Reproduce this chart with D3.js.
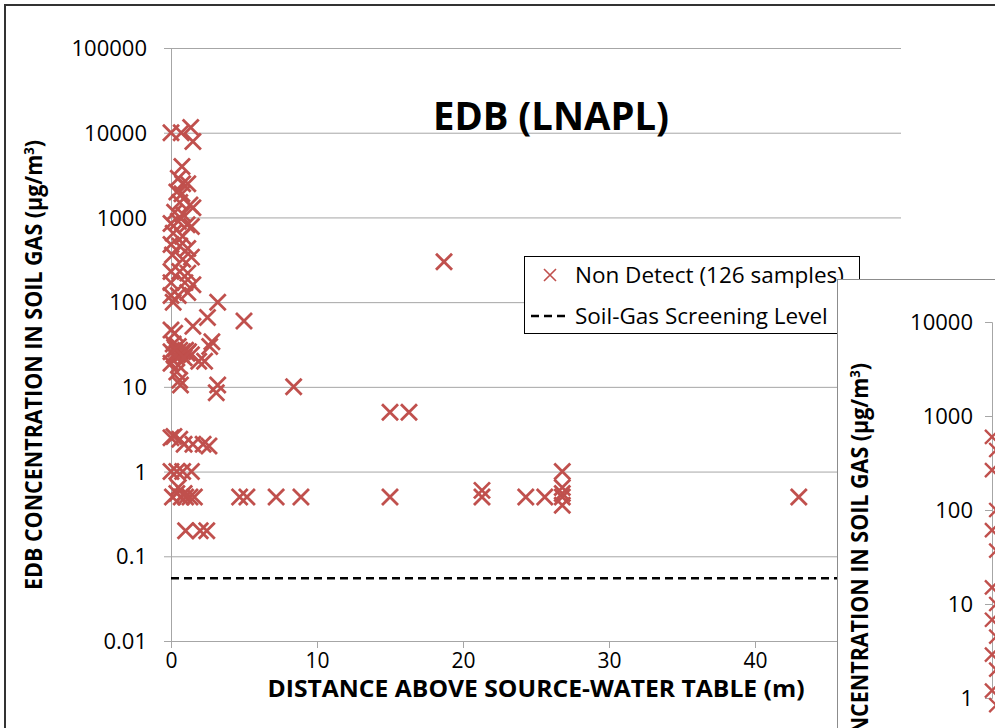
<!DOCTYPE html>
<html>
<head>
<meta charset="utf-8">
<script src="https://cdn.jsdelivr.net/npm/d3@7"></script>
<style>
  body { margin: 0; background: #fff; }
  svg { display: block; }
  text { font-family: "Open Sans", "Liberation Sans", sans-serif; fill: #000; }
</style>
</head>
<body>
<svg id="chart" width="995" height="728"></svg>
<script>
// EDB non-detect samples: distance above water table (m) vs concentration (ug/m3)
const distance = [
  0, 0.7, 1.35, 1.5, 0.75, 0.5, 0.8, 1.15, 0.4, 0.75, 0.6, 1.3, 1.5, 0.25, 0.8,
  0, 0.5, 1.1, 1.4, 0.15, 0.8, 0, 0.6, 1.15, 0.1, 0.8, 1.4, 0, 0.6, 1.15,
  0, 0.95, 1.5, 0, 0.5, 1.15, 0.15, 3.2, 2.5, 5.0, 0, 0.25, 1.5, 2.8, 2.65,
  0.15, 0.5, 0, 0.4, 0.6, 0.8, 1.1, 1.4, 0.2, 1.0, 1.9, 2.3, 0, 0.5, 0.4,
  0.6, 0.65, 3.2, 3.1, 8.4, 15.0, 16.3, 18.7, 0, 0.2, 0.6, 0.9, 1.5, 2.2, 2.6,
  0, 0.4, 0.8, 1.4, 0.5, 0.1, 0.4, 0.7, 1.0, 1.3, 1.6, 0.9, 4.7, 5.2, 7.2,
  8.9, 15.0, 21.3, 21.3, 24.3, 25.6, 26.8, 26.8, 26.8, 26.8, 26.8, 43.0, 1.0, 2.0, 2.45,
  0.3, 0.7, 1.2, 0.3, 0.9
];
const concentration = [
  10000, 10000, 11500, 7900, 4000, 2900, 2500, 2500, 2000, 1900, 1500, 1400, 1300, 1150, 1100,
  850, 900, 820, 780, 650, 600, 480, 460, 430, 360, 320, 340, 230, 230, 220,
  170, 170, 160, 120, 120, 130, 100, 100, 66, 60, 47, 43, 52, 34, 30,
  32, 30, 26, 25, 27, 26, 25, 24, 24, 27, 20, 20, 19, 18, 15,
  12, 10.5, 10.5, 8.5, 10, 5, 5, 300, 2.5, 2.6, 2.4, 2.1, 2.1, 2.1, 2.0,
  1.0, 1.0, 1.0, 1.0, 0.65, 0.5, 0.55, 0.5, 0.5, 0.5, 0.5, 0.55, 0.5, 0.5, 0.5,
  0.5, 0.5, 0.5, 0.6, 0.5, 0.5, 0.5, 1.0, 0.65, 0.4, 0.55, 0.5, 0.2, 0.2, 0.2,
  23, 24, 26, 28, 22
];
const screeningLevel = 0.055;
const yTicks = [0.01, 0.1, 1, 10, 100, 1000, 10000, 100000];
const xTicks = [0, 10, 20, 30, 40, 50];
const legendLabels = ["Non Detect (126 samples)", "Soil-Gas Screening Level"];

// the neighbouring chart that overlaps on the right
const insetTicks = [1, 10, 100, 1000, 10000];
const insetDistance = [0, 0.3, 0, 0.3, 0, 0.3, 0, 0.3, 0, 0.3, 0, 0.3, 0, 0.3];
const insetConcentration = [600, 435, 266, 100, 61, 37, 15, 10, 6.8, 4.5, 2.9, 2, 1.2, 0.84];

const red = "#c0504d";
const grid = "#a6a6a6";

const svg = d3.select("#chart");

// outer frame of the main chart
svg.append("rect")
  .attr("x", 5).attr("y", 5)
  .attr("width", 1100).attr("height", 800)
  .attr("fill", "#fff")
  .attr("stroke", "#333")
  .attr("stroke-width", 2);

const plot = { left: 171, right: 901, top: 48, bottom: 641 };

const x = d3.scaleLinear().domain([0, 50]).range([plot.left, plot.right]);
const y = d3.scaleLog().domain([0.01, 100000]).range([plot.bottom, plot.top]);

// horizontal gridlines + y ticks
const yAxis = svg.append("g")
  .attr("transform", `translate(${plot.left},0)`)
  .call(d3.axisLeft(y).tickValues(yTicks).tickSize(7).tickPadding(17)
    .tickFormat(d => d >= 1 ? d3.format("d")(d) : String(d)));
yAxis.select(".domain").attr("stroke", grid);
yAxis.selectAll(".tick line").attr("stroke", grid);
yAxis.selectAll(".tick").append("line")
  .attr("x2", plot.right - plot.left)
  .attr("stroke", grid);
yAxis.selectAll("text").attr("font-size", 22).attr("font-family", "Open Sans").attr("dy", "0.35em");

// x axis
const xAxis = svg.append("g")
  .attr("transform", `translate(0,${plot.bottom})`)
  .call(d3.axisBottom(x).tickValues(xTicks).tickSize(7).tickPadding(5));
xAxis.select(".domain").attr("stroke", grid);
xAxis.selectAll(".tick line").attr("stroke", grid);
xAxis.selectAll("text").attr("font-size", 21).attr("font-family", "Open Sans");

// screening level
svg.append("line")
  .attr("x1", x(0)).attr("x2", x(50))
  .attr("y1", y(screeningLevel)).attr("y2", y(screeningLevel))
  .attr("stroke", "#000")
  .attr("stroke-width", 2.5)
  .attr("stroke-dasharray", "8,5");

// samples
const cross = "M-8,-8L8,8M-8,8L8,-8";
svg.append("g").selectAll("path")
  .data(distance.map((d, i) => [d, concentration[i]]))
  .join("path")
  .attr("transform", d => `translate(${x(d[0])},${y(d[1])})`)
  .attr("d", cross)
  .attr("fill", "none")
  .attr("stroke", red)
  .attr("stroke-width", 2.8);

// titles
svg.append("text")
  .attr("x", 551).attr("y", 130)
  .attr("text-anchor", "middle")
  .attr("font-size", 39).attr("font-weight", "bold")
  .attr("textLength", 236).attr("lengthAdjust", "spacingAndGlyphs")
  .text("EDB (LNAPL)");

const yTitle = "EDB CONCENTRATION IN SOIL GAS (µg/m<tspan dy='-8' font-size='14'>3</tspan><tspan dy='8'>)</tspan>";

svg.append("text")
  .attr("transform", "translate(42,365) rotate(-90)")
  .attr("text-anchor", "middle")
  .attr("font-size", 23).attr("font-weight", "bold")
  .attr("textLength", 450).attr("lengthAdjust", "spacingAndGlyphs")
  .html(yTitle);

svg.append("text")
  .attr("x", 536).attr("y", 697)
  .attr("text-anchor", "middle")
  .attr("font-size", 23).attr("font-weight", "bold")
  .attr("textLength", 537).attr("lengthAdjust", "spacingAndGlyphs")
  .text("DISTANCE ABOVE SOURCE-WATER TABLE (m)");

// legend
const legend = svg.append("g");
legend.append("rect")
  .attr("x", 524.5).attr("y", 256.5)
  .attr("width", 335).attr("height", 77)
  .attr("fill", "#fff").attr("stroke", "#000");
legend.append("path")
  .attr("transform", "translate(550,275)")
  .attr("d", "M-6,-6L6,6M-6,6L6,-6")
  .attr("fill", "none").attr("stroke", red).attr("stroke-width", 1.6);
legend.append("line")
  .attr("x1", 531).attr("x2", 567).attr("y1", 316).attr("y2", 316)
  .attr("stroke", "#000").attr("stroke-width", 2.5).attr("stroke-dasharray", "8,5");
legend.selectAll("text.lab")
  .data(legendLabels)
  .join("text")
  .attr("class", "lab")
  .attr("x", 575).attr("y", (d, i) => 283 + i * 41)
  .attr("font-size", 22.5)
  .text(d => d);

// overlapping chart on the right
const inset = svg.append("g");
inset.append("rect")
  .attr("x", 837.5).attr("y", 279.5)
  .attr("width", 300).attr("height", 500)
  .attr("fill", "#fff").attr("stroke", "#8c8c8c");

const yi = d3.scaleLog().domain([1, 10000]).range([698, 322]);
const xi = d3.scaleLinear().domain([0, 50]).range([992, 1700]);

const yiAxis = inset.append("g")
  .attr("transform", "translate(992,0)")
  .call(d3.axisLeft(yi).tickValues(insetTicks).tickSize(7).tickPadding(12)
    .tickFormat(d3.format("d")));
yiAxis.select(".domain").attr("stroke", grid);
yiAxis.selectAll(".tick line").attr("stroke", grid);
yiAxis.selectAll("text").attr("font-size", 22).attr("font-family", "Open Sans").attr("dy", "0.35em");

inset.append("g").selectAll("path")
  .data(insetDistance.map((d, i) => [d, insetConcentration[i]]))
  .join("path")
  .attr("transform", d => `translate(${xi(d[0])},${yi(d[1])})`)
  .attr("d", "M-7,-7L7,7M-7,7L7,-7")
  .attr("fill", "none")
  .attr("stroke", red)
  .attr("stroke-width", 2.4);

inset.append("text")
  .attr("transform", "translate(868,363) rotate(-90)")
  .attr("text-anchor", "end")
  .attr("font-size", 23).attr("font-weight", "bold")
  .attr("textLength", 450).attr("lengthAdjust", "spacingAndGlyphs")
  .html(yTitle);
</script>
</body>
</html>
